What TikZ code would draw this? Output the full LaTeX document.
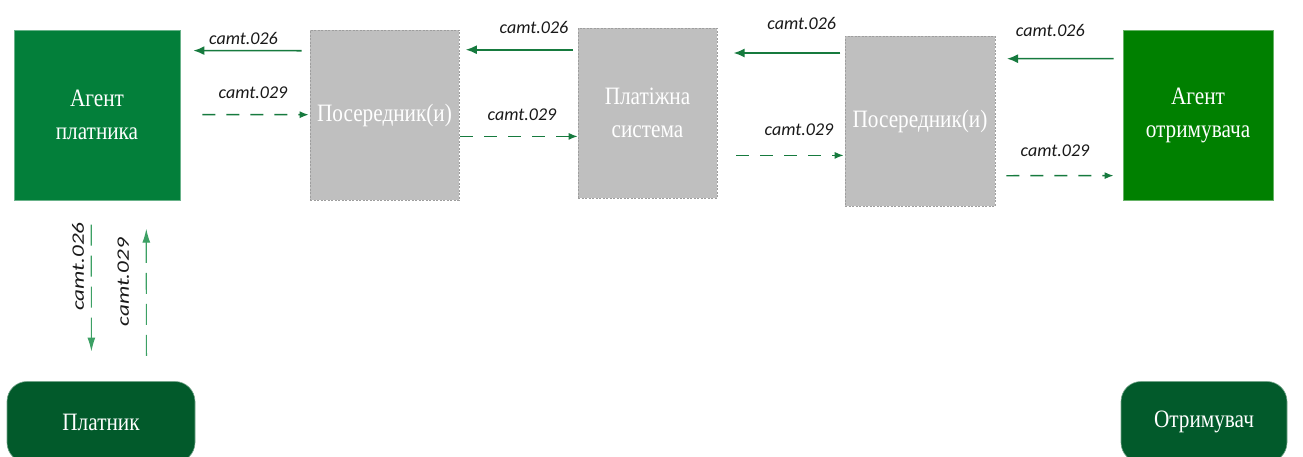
\documentclass[tikz,border=0pt]{standalone}
\usepackage{fontspec}
\setmainfont{Liberation Serif}
\newfontfamily\boxfont[FakeStretch=0.85]{Liberation Serif}
\newfontfamily\msgfont{Carlito}
\newfontfamily\widemsgfont[FakeStretch=1.32]{Carlito}
\usepackage{xcolor}
\usepackage{tikz}
\usetikzlibrary{arrows.meta, positioning}
\definecolor{payergreen}{RGB}{3,127,58}
\definecolor{payeegreen}{RGB}{0,128,0}
\definecolor{clientgreen}{RGB}{2,90,43}
\definecolor{relaygray}{RGB}{191,191,191}
\definecolor{relayedge}{RGB}{158,158,158}
\definecolor{arrowgreen}{RGB}{22,122,62}
\definecolor{sidegreen}{RGB}{60,160,100}
\tikzstyle{box} = [rectangle, inner sep=0pt, align=center, text=white, font=\boxfont\fontsize{25}{33}\selectfont]
\tikzstyle{agent} = [box, line width=0.8pt, minimum height=170pt]
\tikzstyle{relay} = [box, fill=relaygray, draw=relayedge, line width=0.6pt, dash pattern=on 2pt off 1.5pt, minimum height=170pt]
\tikzstyle{client} = [box, fill=clientgreen, draw=clientgreen!55!white, line width=0.6pt, rounded corners=20pt, minimum height=81pt]
\tikzstyle{msg} = [font=\msgfont\itshape\fontsize{18}{20}\selectfont, text=black!90, inner sep=0pt]
\tikzstyle{side-msg} = [font=\widemsgfont\itshape\fontsize{17.5}{20}\selectfont, text=black!90, inner sep=0pt, rotate=90, anchor=south]
\tikzstyle{msg-arrow} = [-{Latex[length=11pt,width=9pt]}, line width=1.6pt, draw=arrowgreen]
\tikzstyle{ack-arrow} = [-{Latex[length=9pt,width=7pt]}, line width=1.4pt, draw=arrowgreen, dash pattern=on 13pt off 11pt]
\tikzstyle{side-arrow} = [-{Latex[length=14pt,width=8pt]}, line width=1.2pt, draw=sidegreen, dash pattern=on 21pt off 10pt]

\begin{document}
\begin{tikzpicture}[x=1pt, y=-1pt]
  \useasboundingbox (0,0) rectangle (1303,456);

  % Nodes
  \node (agentA) [agent, fill=payergreen, draw=payergreen!60!white, minimum width=166pt] at (97,115) {Агент\\платника};
  \node (posA) [relay, minimum width=149pt] at (384.5,115) {Посередник(и)};
  \node (sys) [relay, minimum width=139pt] at (647.5,113) {Платіжна\\система};
  \node (posB) [relay, minimum width=150pt] at (920,121) {Посередник(и)};
  \node (agentB) [agent, fill=payeegreen, draw=payeegreen!60!white, minimum width=150pt] at (1198,115) {Агент\\отримувача};
  \node (payer) [client, minimum width=188pt] at (101,422) {Платник};
  \node (payee) [client, minimum width=166pt] at (1204,422) {Отримувач};

  % Arrows with labels
  \draw[msg-arrow] ([xshift=-8pt, yshift=-21pt]posA.north west) -- node[msg, above=5.5pt, xshift=-4pt] {camt.026} ([xshift=13pt, yshift=-21pt]agentA.north east);
  \draw[ack-arrow] ([xshift=22pt, yshift=-85pt]agentA.north east) -- node[msg, above=15pt, xshift=-2.5pt] {camt.029} ([xshift=-1pt, yshift=-85pt]posA.north west);

  \draw[msg-arrow] ([xshift=-4.5pt, yshift=-22pt]sys.north west) -- node[msg, above=15pt, xshift=14.5pt] {camt.026} ([xshift=6.5pt, yshift=-20pt]posA.north east);
  \draw[ack-arrow] ([xshift=1pt, yshift=-106.7pt]posA.north east) -- node[msg, above=15pt, xshift=3pt] {camt.029} ([yshift=-108.7pt]sys.north west);

  \draw[msg-arrow] ([xshift=-4.3pt, yshift=-17.3pt]posB.north west) -- node[msg, above=23pt, xshift=14.7pt] {camt.026} ([xshift=16.3pt, yshift=-25.3pt]sys.north east);
  \draw[ack-arrow] ([xshift=19pt, yshift=-127.7pt]sys.north east) -- node[msg, above=19pt, xshift=9pt] {camt.029} ([xshift=-1pt, yshift=-119.7pt]posB.north west);

  \draw[msg-arrow] ([xshift=-9pt, yshift=-29pt]agentB.north west) -- node[msg, above=21.7pt, xshift=-10pt] {camt.026} ([xshift=11.7pt, yshift=-23pt]posB.north east);
  \draw[ack-arrow] ([xshift=11pt, yshift=-140pt]posB.north east) -- node[msg, above=18pt, xshift=-5pt] {camt.029} ([xshift=-9pt, yshift=-146pt]agentB.north west);

  \draw[side-arrow] ([xshift=77.7pt, yshift=-24.3pt]agentA.south west) -- node[side-msg, inner ysep=6.7pt, pos=0.33] {camt.026} ([xshift=84.7pt, yshift=29.7pt]payer.north west);
  \draw[side-arrow] ([xshift=139.7pt, yshift=25.3pt]payer.north west) -- node[side-msg, inner ysep=16.7pt, pos=0.58] {camt.029} ([xshift=132.7pt, yshift=-28.3pt]agentA.south west);

\end{tikzpicture}
\end{document}
